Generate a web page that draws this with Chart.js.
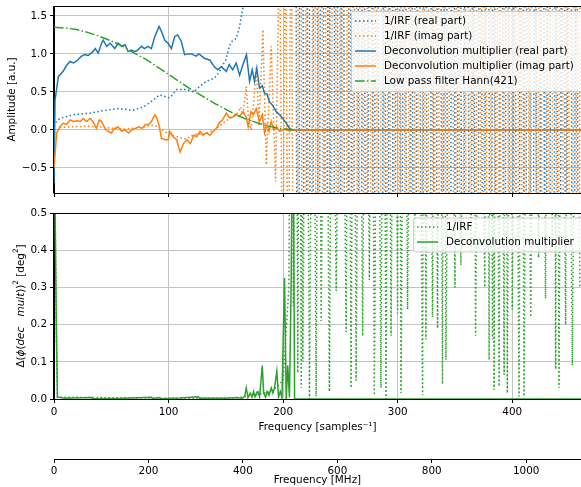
<!DOCTYPE html>
<html>
<head>
<meta charset="utf-8">
<script src="https://cdn.jsdelivr.net/npm/chart.js@4.4.1/dist/chart.umd.min.js"></script>
<style>
  body { margin: 0; background: #fff; }
  #wrap { position: relative; width: 581px; height: 487px; overflow: hidden; background: #fff; }
  canvas { position: absolute; left: 0; }
</style>
</head>
<body>
<div id="wrap">
  <canvas id="ampChart" width="581" height="197" style="top:0"></canvas>
  <canvas id="phaseChart" width="581" height="236" style="top:200px"></canvas>
  <canvas id="mhzAxis" width="581" height="47" style="top:440px"></canvas>
</div>
<script>
// ---- data: [frequency (samples^-1), value] ----
const multReal = [[0,-0.70],[0.9,0.39],[3.8,0.70],[8,0.77],[11,0.85],[14,0.90],[17,0.88],[20,0.91],[24,0.97],[27,0.99],
  [30,0.98],[34,1.03],[36,1.07],[38.6,1.01],[41.5,1.14],[43,1.18],[46,1.10],[49,1.14],[53,1.07],[56,1.14],[59,1.10],
  [62,1.12],[64.7,1.03],[67.5,1.05],[70.5,1.03],[73,1.05],[76.4,1.10],[79,1.07],[82,1.10],[85,1.07],[88,1.23],[91.7,1.36],
  [93.7,1.30],[96.7,1.18],[99.6,1.14],[102.5,1.07],[105.4,1.23],[108,1.25],[111,1.17],[114,0.99],[117,1.0],[120,1.0],
  [124,0.97],[126.5,1.0],[131.5,0.94],[136,0.92],[140,0.83],[143,0.79],[146,0.83],[150.4,0.77],[153,0.86],[156,0.79],
  [159,0.88],[162,0.72],[165,0.86],[168,0.99],[170.7,0.64],[173,0.79],[175,0.64],[177,0.81],[179.4,0.55],[181.8,0.58],
  [183.8,0.48],[186,0.47],[188,0.37],[191,0.32],[194,0.24],[197,0.20],[199.7,0.15],[202.7,0.09],[205.6,0.02],[208,0],[460,0]];

const multImag = [[0,-0.50],[2.3,-0.04],[5.2,0.04],[8,0.09],[11,0.07],[14,0.13],[17,0.11],[20,0.12],[23,0.11],[25.5,0.15],
  [28.5,0.11],[31.4,0.15],[34,0.11],[37,0.02],[39.5,0.13],[41.5,0.11],[44.5,0.02],[47.3,-0.02],[50,-0.04],[53,0.02],
  [56,0.04],[59,-0.02],[62,0.0],[65,-0.04],[68,0.0],[71,0.02],[74,0.04],[77,0.02],[79.7,0.07],[82.6,0.07],[85,0.11],
  [88,0.20],[90,0.15],[92,0.04],[93.8,-0.11],[96.7,-0.13],[99.6,-0.13],[101,-0.02],[104,-0.09],[107,-0.13],[110,-0.29],
  [113,-0.18],[116,-0.13],[119,-0.18],[122,-0.07],[124.6,-0.09],[127.5,-0.02],[130,-0.07],[133,-0.04],[136,-0.07],
  [139,-0.02],[141.7,0.02],[144.6,0.10],[147,0.13],[150.4,0.22],[153,0.16],[156,0.17],[159,0.20],[162,0.18],[165,0.24],
  [168,0.16],[169.5,0.04],[172,0.24],[174,0.20],[176.5,0.28],[179.4,0.11],[181.8,0.20],[183.8,-0.04],[186,0.07],
  [187.7,-0.02],[189.6,0.11],[191.7,0.0],[194,0.04],[197,-0.02],[200,0.0],[203,0.02],[205.6,-0.02],[208,0],[460,0]];

const hannFilter = [[0,1.35],[10,1.34],[20,1.32],[30,1.28],[40,1.23],[50,1.17],[60,1.10],[70,1.01],[80,0.93],[90,0.83],
  [100,0.73],[110,0.63],[120,0.53],[130,0.44],[140,0.35],[150,0.27],[160,0.19],[170,0.13],[180,0.08],[190,0.04],
  [200,0.01],[210,0.0]];

const irfRealLow = [[0,0.05],[1,0.09],[5,0.15],[17,0.20],[31,0.22],[46,0.26],[56,0.28],[69,0.26],[78,0.30],[86.5,0.39],
  [92,0.46],[97,0.44],[101,0.42],[107,0.53],[116,0.53],[122,0.50],[127,0.57],[133,0.64],[140,0.68],[144.6,0.77],
  [147.5,0.86],[150,0.92],[153,1.10],[156,1.18],[159,1.20],[162,1.36],[165,1.62],[170,2.2],[178,2.8],[186,3.5],
  [194,4.2],[202,5.0]];

const irfImagLow = [[0,-0.04],[5,0.03],[15,0.04],[30,0.05],[45,0.03],[60,0.01],[75,0.03],[85,0.06],[90,0.05],[95,-0.01],
  [100,-0.05],[105,-0.08],[110,-0.10],[115,-0.12],[120,-0.08],[125,-0.05],[130,-0.06],[135,-0.03],[140,0.0],[145,0.06],
  [150,0.12],[155,0.16],[160,0.22],[163,0.30],[165,0.20],[167.8,0.57],[170,0.10],[172,0.0],[174,0.30],[176.6,0.83],
  [179,0.05],[182.3,1.32],[185.3,-0.46],[189.6,1.10],[193.4,-0.68],[196.9,2.5],[199.7,-2.5],[202,3],[204.5,-3],
  [207,4],[209,-4]];

// beyond ~210 samples 1/IRF blows up: one value every 3 samples
const wildStep = 3;
const irfRealWildStart = 210;
const irfRealWild = [9,-7,12,-10,8,-11,14,-6,10,-9,7,-13,11,-8,9,-12,6,-7,13,-10,
  8,-9,12,-6,10,-14,7,-8,11,-9,13,-7,9,-11,6,-10,12,-8,10,-13,
  7,-9,14,-6,8,-12,11,-7,9,-10,13,-8,6,-11,10,-9,12,-7,8,-14,
  11,-6,9,-10,7,-12,13,-8,10,-9,6,-11,12,-7,9,-13,8,-10,11,-6,
  14,-9,7,-12];
const irfImagWildStart = 211.5;
const irfImagWild = [-8,11,-10,7,-13,9,-6,12,-9,10,-7,14,-11,8,-12,6,-9,13,-7,10,
  -12,8,-6,11,-14,9,-8,7,-10,12,-9,13,-11,6,-8,10,-13,7,-9,12,
  -6,11,-10,8,-12,14,-7,9,-11,6,-13,10,-8,12,-9,7,-14,11,-6,9,
  -10,13,-8,7,-12,10,-9,11,-7,14,-6,8,-13,9,-11,12,-8,10,-7,6,
  -12,9,-10,13];

// lower panel: squared phase difference [deg^2]
const phaseMult = [[0,0.9],[1,0.5],[2,0.2],[3,0.005],[10,0.002],[33,0.004],[34,0.001],[60,0.002],[85,0.005],[86,0.001],
  [92,0.004],[93,0.001],[110,0.003],[126,0.006],[127,0.002],[150,0.002],[160,0.004],[164,0.001],[166.4,0.007],
  [167.8,0.03],[169.3,0.004],[171.3,0.016],[172.8,0.005],[174.2,0.02],[175.5,0.006],[177,0.018],[178,0.02],
  [179.5,0.006],[181.8,0.09],[183,0.016],[184.7,0.005],[186,0.02],[187.7,0.01],[189.6,0.03],[191,0.016],[192.5,0.03],
  [194.5,0.075],[196,0.005],[197.5,0.02],[199,0.004],[201.2,0.325],[202.7,0.0],[204,0.09],[205.5,0.005],[207,0.3],
  [208.5,0.9],[210,0],[460,0]];

const phaseIrf = [[0,0.9],[1,0.5],[2,0.2],[3,0.005],[100,0.002],[160,0.003],[190,0.02],[200,0.05],[205,0.3],[207,1.2],
  [209,0.25],[211,1.5],[212.8,0.07],[214.3,1.5],[215.8,0.03],[216.5,1.2],[217.2,0.10],[220,1.5],[223,0.0],[226,1.5],
  [228.8,0.007],[231,1.5],[233.2,0.21],[237,1.5],[240.4,0.02],[243,1.5],[246.3,0.29],[251,1.5],[255,0.18],[257,1.5],
  [259.3,0.03],[261.5,1.5],[263.7,0.05],[266.5,1.5],[269.4,0.17],[272,1.5],[275.3,0.32],[277.5,1.5],[279.6,0.01],
  [282.5,1.5],[285.4,0.03],[287.5,1.5],[289.8,0.0],[292,1.5],[294.2,0.17],[297,1.5],[299.9,0.23],[301.5,1.5],
  [302.9,0.016],[306,1.5],[308.6,0.24],[312,1.5],[315,0.42],[318,1.5],[321.7,0.01],[323,1.5],[324.6,0.16],[327.5,1.5],
  [330.4,0.22],[332.5,1.5],[334.8,0.19],[337,1.5],[339.1,0.04],[340.5,1.5],[342.1,0.105],[346,1.5],[350,0.3],[352,1.5],
  [355.1,0.36],[360,1.5],[364,0.4],[366,1.5],[368,0.17],[372,1.5],[376,0.3],[378,1.5],[379.8,0.105],[381,1.5],
  [382.7,0.16],[383.4,1.5],[384.1,0.025],[386,1.5],[388.5,0.034],[390.5,1.5],[392.9,0.065],[394,1.5],[395.7,0.016],
  [398,1.5],[400,0.24],[403,1.5],[405.9,0.007],[408,1.5],[410.3,0.007],[413,1.5],[416.1,0.22],[420,1.5],[423,0.38],
  [426,1.5],[429,0.27],[432,1.5],[435,0.4],[436.5,1.5],[437.9,0.08],[439,1.5],[440.8,0.03],[443,1.5],[446.6,0.2],
  [449,1.5],[452.4,0.09],[456,1.5],[459,0.3]];

const xMax = 460;       // samples^-1 visible
const mhzMax = 1116;    // same width on the MHz axis
const ampTicks = { min: -0.83, max: 1.63, step: 0.5 };
const phaseTicks = { min: 0, max: 0.5, step: 0.1 };

// ---- styles ----
const C0 = "#1f77b4", C1 = "#ff7f0e", C2 = "#2ca02c";
const dotted = [1.5, 2.5];
const dashDot = [9.6, 2.4, 1.5, 2.4];
const gridColor = "#c4c4c4";
const fontSize = 10.4;

Chart.defaults.font.family = "DejaVu Sans";
Chart.defaults.font.size = fontSize;
Chart.defaults.color = "#000";

const pts = (arr) => arr.map(([x, y]) => ({ x, y }));
const wild = (start, vals) => vals.map((y, i) => ({ x: start + i * wildStep, y }));

function line(label, data, color, dash, order) {
  return {
    label, data, order,
    borderColor: color,
    borderWidth: 1.5,
    borderDash: dash || [],
    pointRadius: 0,
    tension: 0,
    fill: false,
  };
}

const minus = (v) => v.toFixed(1).replace("-", "\u2212");

// spines drawn above the data, as matplotlib does
const frame = {
  id: "frame",
  afterDatasetsDraw(chart) {
    const { ctx, chartArea: a } = chart;
    ctx.save();
    ctx.strokeStyle = "#000";
    ctx.lineWidth = 1;
    ctx.beginPath();
    ctx.moveTo(a.left - 0.5, a.top + 0.5);
    ctx.lineTo(a.right, a.top + 0.5);
    ctx.moveTo(a.left - 0.5, a.top);
    ctx.lineTo(a.left - 0.5, a.bottom);
    ctx.moveTo(a.left - 0.5, a.bottom + 0.5);
    ctx.lineTo(a.right, a.bottom + 0.5);
    ctx.stroke();
    ctx.restore();
  },
};

// legend box in the top right corner (canvas coordinates)
const boxLegend = {
  id: "boxLegend",
  afterDraw(chart, args, o) {
    const ctx = chart.ctx;
    ctx.save();
    ctx.beginPath();
    ctx.roundRect(o.x + 0.5, o.y + 0.5, o.w, o.h, 2);
    ctx.fillStyle = "rgba(255,255,255,0.8)";
    ctx.fill();
    ctx.strokeStyle = "#cccccc";
    ctx.lineWidth = 1;
    ctx.stroke();
    o.items.forEach((it, i) => {
      const y = o.y + o.first + i * o.row;
      ctx.beginPath();
      ctx.setLineDash(it.dash);
      ctx.strokeStyle = it.color;
      ctx.lineWidth = 1.5;
      ctx.moveTo(o.x + 4, y);
      ctx.lineTo(o.x + 25, y);
      ctx.stroke();
      ctx.setLineDash([]);
      ctx.fillStyle = "#000";
      ctx.font = fontSize + "px 'DejaVu Sans'";
      ctx.textBaseline = "middle";
      ctx.fillText(it.label, o.x + 33, y);
    });
    ctx.restore();
  },
};

// y label of the lower panel with the italic parts of the mathtext
const mathLabel = {
  id: "mathLabel",
  afterDraw(chart, args, o) {
    const ctx = chart.ctx;
    const a = chart.chartArea;
    const normal = fontSize + "px 'DejaVu Sans'";
    const italic = "oblique " + fontSize + "px 'DejaVu Sans'";
    const small = (fontSize * 0.7).toFixed(1) + "px 'DejaVu Sans'";
    const parts = [
      ["\u0394(", normal, 0], ["\u03d5", italic, 0], ["(", normal, 0], ["dec", italic, 0], ["\u2002\u2002", normal, 0],
      ["mult", italic, 0], ["))", normal, 0], ["2", small, -4.5], [" [deg", normal, 0], ["2", small, -4.5], ["]", normal, 0],
    ];
    ctx.save();
    let total = 0;
    parts.forEach((p) => { ctx.font = p[1]; total += ctx.measureText(p[0]).width; });
    ctx.translate(o.x, (a.top + a.bottom) / 2);
    ctx.rotate(-Math.PI / 2);
    ctx.fillStyle = "#000";
    ctx.textBaseline = "middle";
    let x = -total / 2;
    parts.forEach((p) => {
      ctx.font = p[1];
      ctx.fillText(p[0], x, p[2]);
      x += ctx.measureText(p[0]).width;
    });
    ctx.restore();
  },
};

function xScale(showLabels, height, title) {
  return {
    type: "linear", min: 0, max: xMax,
    afterFit: (s) => { s.height = height; s.paddingLeft = 0; s.paddingRight = 0; },
    ticks: { display: showLabels, stepSize: 100, includeBounds: false, padding: 3, maxRotation: 0 },
    grid: { color: gridColor, lineWidth: 1, tickColor: "#000", tickLength: 4 },
    border: { color: "#000", width: 1 },
    title: title ? { display: true, text: title, padding: { top: 0, bottom: 2 } } : { display: false },
  };
}

function yScale(t, title) {
  return {
    min: t.min, max: t.max,
    afterFit: (s) => { s.width = 54; s.paddingTop = 0; s.paddingBottom = 0; },
    ticks: { stepSize: t.step, includeBounds: false, padding: 3, callback: minus },
    grid: { color: gridColor, lineWidth: 1, tickColor: "#000", tickLength: 4 },
    border: { color: "#000", width: 1 },
    title: title ? { display: true, text: title, padding: { top: 6, bottom: 0 } } : { display: false },
  };
}

const base = {
  animation: false,
  responsive: false,
  events: [],
};

new Chart(document.getElementById("ampChart"), {
  type: "line",
  data: {
    datasets: [
      line("1/IRF (real part)", pts(irfRealLow).concat(wild(irfRealWildStart, irfRealWild)), C0, dotted, 5),
      line("1/IRF (imag part)", pts(irfImagLow).concat(wild(irfImagWildStart, irfImagWild)), C1, dotted, 4),
      line("Deconvolution multiplier (real part)", pts(multReal), C0, null, 3),
      line("Deconvolution multiplier (imag part)", pts(multImag), C1, null, 2),
      line("Low pass filter Hann(421)", pts(hannFilter), C2, dashDot, 1),
    ],
  },
  options: {
    ...base,
    layout: { padding: { top: 6, left: 0, right: 0, bottom: 0 } },
    plugins: {
      legend: { display: false },
      tooltip: { enabled: false },
      boxLegend: {
        x: 351, y: 11, w: 240, h: 80, first: 10, row: 15,
        items: [
          { label: "1/IRF (real part)", color: C0, dash: dotted },
          { label: "1/IRF (imag part)", color: C1, dash: dotted },
          { label: "Deconvolution multiplier (real part)", color: C0, dash: [] },
          { label: "Deconvolution multiplier (imag part)", color: C1, dash: [] },
          { label: "Low pass filter Hann(421)", color: C2, dash: dashDot },
        ],
      },
    },
    scales: {
      x: xScale(false, 4, null),
      y: yScale(ampTicks, "Amplitude [a.u.]"),
    },
  },
  plugins: [frame, boxLegend],
});

new Chart(document.getElementById("phaseChart"), {
  type: "line",
  data: {
    datasets: [
      line("1/IRF", pts(phaseIrf), C2, dotted, 2),
      line("Deconvolution multiplier", pts(phaseMult), C2, null, 1),
    ],
  },
  options: {
    ...base,
    layout: { padding: { top: 13, left: 0, right: 0, bottom: 0 } },
    plugins: {
      legend: { display: false },
      tooltip: { enabled: false },
      mathLabel: { x: 21 },
      boxLegend: {
        x: 413, y: 17.5, w: 180, h: 34, first: 9.5, row: 15,
        items: [
          { label: "1/IRF", color: C2, dash: dotted },
          { label: "Deconvolution multiplier", color: C2, dash: [] },
        ],
      },
    },
    scales: {
      x: xScale(true, 37, "Frequency [samples\u207b\u00b9]"),
      y: yScale(phaseTicks, null),
    },
  },
  plugins: [frame, boxLegend, mathLabel],
});

// secondary frequency axis in MHz
new Chart(document.getElementById("mhzAxis"), {
  type: "line",
  data: { datasets: [] },
  options: {
    ...base,
    layout: { padding: { top: 17, left: 54, right: 0, bottom: 0 } },
    plugins: { legend: { display: false }, tooltip: { enabled: false } },
    scales: {
      x: {
        type: "linear", min: 0, max: mhzMax,
        afterFit: (s) => { s.height = 28; s.paddingLeft = 0; s.paddingRight = 0; },
        ticks: { stepSize: 200, includeBounds: false, padding: 2, maxRotation: 0, callback: (v) => String(v) },
        grid: { drawOnChartArea: false, tickColor: "#000", tickLength: 4 },
        border: { color: "#000", width: 1 },
        title: { display: true, text: "Frequency [MHz]", padding: { top: 0, bottom: 0 } },
      },
      y: { display: false },
    },
  },
});
</script>
</body>
</html>
